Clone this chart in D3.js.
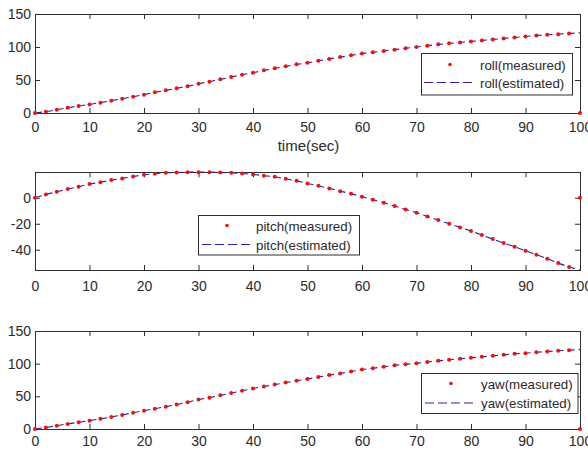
<!DOCTYPE html>
<html>
<head>
<meta charset="utf-8">
<script src="https://cdn.jsdelivr.net/npm/d3@7"></script>
<style>
  html, body { margin: 0; padding: 0; background: #fff; }
  svg { display: block; font-family: "Liberation Sans", Arial, sans-serif; }
</style>
</head>
<body>
<svg id="chart" width="588" height="452"></svg>
<script>
// ---- data ----
const timeSec = [0,2,4,6,8,10,12,14,16,18,20,22,24,26,28,30,32,34,36,38,40,42,44,46,48,
  50,52,54,56,58,60,62,64,66,68,70,72,74,76,78,80,82,84,86,88,90,92,94,96,98,100];

const rollMeasured = [0,2,5,8,10.6,13,15.7,18.7,21.7,24.7,27.8,31.3,34.3,37.4,40.4,44.4,47.5,51,54.5,58,
  61,64.6,67.7,70.7,73.7,76,79,82,84.7,87.4,90,92,94,96,98,100,102,104,105.5,107,
  108.5,110,111.5,113,114.5,116,117.5,118.5,119.5,120.5,0];
const rollEstimated = [0,2,5,8,10.6,13,15.7,18.7,21.7,24.7,27.8,31.3,34.3,37.4,40.4,44.4,47.5,51,54.5,58,
  61,64.6,67.7,70.7,73.7,76,79,82,84.7,87.4,90,92,94,96,98,100,102,104,105.5,107,
  108.5,110,111.5,113,114.5,116,117.5,118.5,119.5,120.5,121.5];

const pitchMeasured = [0,2.6,4.6,6.7,8.5,10.5,12,13.6,14.9,16.4,17.7,18.5,19.2,19.5,19.7,19.7,19.7,19.5,19.2,18.7,
  18,17,16.2,14.6,13,11,9.2,7.2,5.1,3.1,0.8,-1.5,-3.8,-6.4,-9,-11.5,-14.4,-17.2,-20,-22.8,
  -25.6,-28.7,-31.8,-34.9,-37.7,-40.8,-43.8,-46.9,-50.3,-53.3,0];
const pitchEstimated = [0,2.6,4.6,6.7,8.5,10.5,12,13.6,14.9,16.4,17.7,18.5,19.2,19.5,19.7,19.7,19.7,19.5,19.2,18.7,
  18,17,16.2,14.6,13,11,9.2,7.2,5.1,3.1,0.8,-1.5,-3.8,-6.4,-9,-11.5,-14.4,-17.2,-20,-22.8,
  -25.6,-28.7,-31.8,-34.9,-37.7,-40.8,-43.8,-46.9,-50.3,-53.3,-55.6];

const yawMeasured = [0,2.3,5,7.8,10.3,12.8,15.5,18.5,21.5,24.8,28,31,34.2,37.5,41,45,48,51.5,55,58.5,
  62,65,68,71,74,76.5,79.5,82.5,85,88,91,93,95.2,97.5,99,100.5,102.5,104.3,106,107.5,
  109,110.5,112,113.5,115,116,117.5,118.7,119.7,120.7,0];
const yawEstimated = [0,2.3,5,7.8,10.3,12.8,15.5,18.5,21.5,24.8,28,31,34.2,37.5,41,45,48,51.5,55,58.5,
  62,65,68,71,74,76.5,79.5,82.5,85,88,91,93,95.2,97.5,99,100.5,102.5,104.3,106,107.5,
  109,110.5,112,113.5,115,116,117.5,118.7,119.7,120.7,121.5];

const xTicks = [0,10,20,30,40,50,60,70,80,90,100];
const rollTicks = [0,50,100,150];
const pitchTicks = [-40,-20,0];
const yawTicks = [0,50,100,150];
const xLabel = "time(sec)";
const legendRoll = ["roll(measured)", "roll(estimated)"];
const legendPitch = ["pitch(measured)", "pitch(estimated)"];
const legendYaw = ["yaw(measured)", "yaw(estimated)"];

// ---- layout / style ----
const svg = d3.select("#chart");
const L = 35, R = 580;
const axisColor = "#2e2e2e";
const textColor = "#2a2a2a";
const lineColor = "#2323a8";
const dotColor = "#f01010";
const fmt = d => String(d);

const panels = [
  { top: 14, bottom: 113, domain: [0,150], yTicks: rollTicks, meas: rollMeasured, est: rollEstimated,
    labelPad: 9.5, xlabel: true,
    legend: { labels: legendRoll, x0: 421, x1: 572, y0: 53, y1: 94.5, dotX: 450, row1: 65.5, row2: 83, lineX0: 424, lineX1: 473, textX: 480 } },
  { top: 172.3, bottom: 270, domain: [-55.6,19.6], yTicks: pitchTicks, meas: pitchMeasured, est: pitchEstimated,
    labelPad: 11, xlabel: false,
    legend: { labels: legendPitch, x0: 198, x1: 359, y0: 215, y1: 254.5, dotX: 227, row1: 226.5, row2: 245, lineX0: 202, lineX1: 250, textX: 256 } },
  { top: 331, bottom: 429, domain: [0,150], yTicks: yawTicks, meas: yawMeasured, est: yawEstimated,
    labelPad: 7.5, xlabel: false,
    legend: { labels: legendYaw, x0: 421, x1: 577.5, y0: 373, y1: 413, dotX: 451, row1: 384.5, row2: 403.5, lineX0: 425, lineX1: 475, textX: 481 } }
];

const x = d3.scaleLinear().domain([0,100]).range([L, R]);

panels.forEach(p => {
  const y = d3.scaleLinear().domain(p.domain).range([p.bottom, p.top]);
  const g = svg.append("g");

  const styleAxis = sel => {
    sel.select(".domain").remove();
    sel.selectAll(".tick line").attr("stroke", axisColor).attr("stroke-width", 1);
    sel.selectAll(".tick text").attr("fill", textColor).style("font-size", "14px")
      .style("font-family", "'Liberation Sans', Arial, sans-serif");
  };
  g.append("g").attr("transform", `translate(0,${p.bottom})`)
    .call(d3.axisBottom(x).tickValues(xTicks).tickSize(-5).tickPadding(p.labelPad).tickFormat(fmt))
    .call(styleAxis);
  g.append("g").attr("transform", `translate(0,${p.top})`)
    .call(d3.axisTop(x).tickValues(xTicks).tickSize(-5).tickFormat(""))
    .call(styleAxis);
  g.append("g").attr("transform", `translate(${L},0)`)
    .call(d3.axisLeft(y).tickValues(p.yTicks).tickSize(-5).tickPadding(4).tickFormat(fmt))
    .call(styleAxis);
  g.append("g").attr("transform", `translate(${R},0)`)
    .call(d3.axisRight(y).tickValues(p.yTicks).tickSize(-5).tickFormat(""))
    .call(styleAxis);

  g.append("rect").attr("x", L + 0.5).attr("y", Math.round(p.top) + 0.5)
    .attr("width", R - L).attr("height", Math.round(p.bottom) - Math.round(p.top))
    .attr("fill", "none").attr("stroke", axisColor).attr("stroke-width", 1);

  // estimated dashed line
  const line = d3.line().x((d, i) => x(timeSec[i])).y(d => y(d));
  g.append("path").datum(p.est).attr("d", line)
    .attr("fill", "none").attr("stroke", lineColor).attr("stroke-width", 1.1)
    .attr("stroke-dasharray", "7,4");

  // measured dots
  g.selectAll("circle.m").data(p.meas).enter().append("circle")
    .attr("class", "m")
    .attr("cx", (d, i) => x(timeSec[i])).attr("cy", d => y(d))
    .attr("r", 2).attr("fill", dotColor);

  if (p.xlabel) {
    svg.append("text").attr("x", (L + R) / 2 + 1).attr("y", 151)
      .attr("text-anchor", "middle").attr("fill", textColor)
      .style("font-size", "15px").text(xLabel);
  }

  // legend
  const lg = p.legend;
  const leg = svg.append("g");
  leg.append("rect").attr("x", lg.x0 + 0.5).attr("y", lg.y0 + 0.5)
    .attr("width", lg.x1 - lg.x0).attr("height", lg.y1 - lg.y0)
    .attr("fill", "#fff").attr("stroke", axisColor).attr("stroke-width", 1);
  leg.append("circle").attr("cx", lg.dotX).attr("cy", lg.row1 - 1).attr("r", 1.8).attr("fill", dotColor);
  leg.append("line").attr("x1", lg.lineX0).attr("x2", lg.lineX1).attr("y1", lg.row2 - 0.5).attr("y2", lg.row2 - 0.5)
    .attr("stroke", lineColor).attr("stroke-width", 1.1).attr("stroke-dasharray", "9,4");
  leg.selectAll("text").data(lg.labels).enter().append("text")
    .attr("x", lg.textX).attr("y", (d, i) => i === 0 ? lg.row1 : lg.row2)
    .attr("dy", "0.35em").attr("fill", textColor).style("font-size", "13.3px")
    .text(d => d);
});
</script>
</body>
</html>
